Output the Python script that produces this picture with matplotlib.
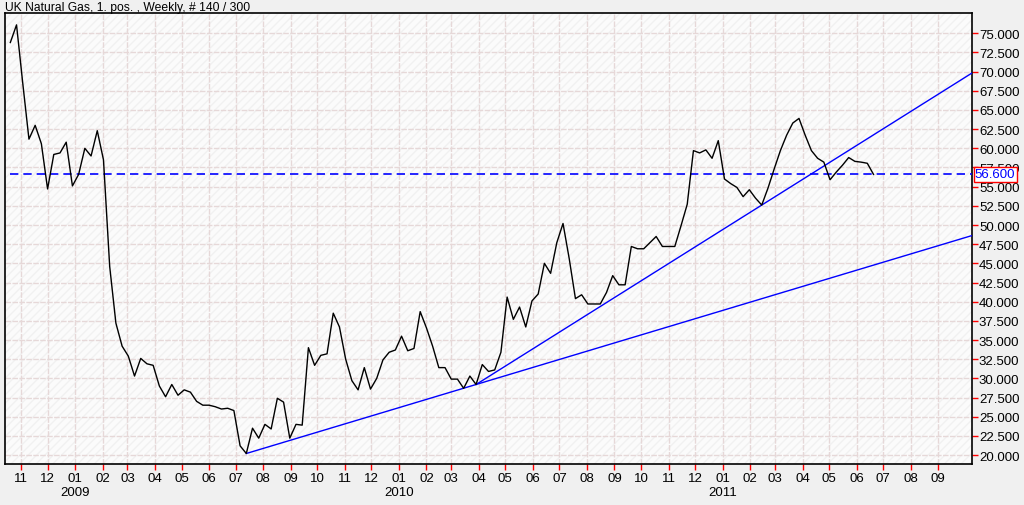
import numpy as np
import pandas as pd
import matplotlib
matplotlib.use("Agg")
import matplotlib.pyplot as plt
import matplotlib.dates as mdates
from matplotlib.patches import Rectangle
from matplotlib.ticker import FixedLocator, FuncFormatter

plt.rcParams['font.family'] = ['Liberation Sans', 'DejaVu Sans']

# weekly closes, UK Natural Gas (1. pos.)
start_date = "2008-10-20"
prices = [
    73.8, 76.1, 68.5, 61.2, 63.0, 60.6, 54.7, 59.2, 59.4, 60.8,
    55.1, 56.6, 60.0, 59.0, 62.3, 58.5, 44.6, 37.2, 34.2, 32.9,
    30.3, 32.6, 31.9, 31.7, 29.0, 27.6, 29.2, 27.8, 28.5, 28.2,
    27.0, 26.5, 26.5, 26.3, 26.0, 26.1, 25.8, 21.2, 20.2, 23.5,
    22.2, 24.0, 23.4, 27.4, 26.9, 22.2, 24.0, 23.9, 34.0, 31.7,
    33.0, 33.2, 38.5, 36.7, 32.5, 29.7, 28.5, 31.4, 28.6, 30.0,
    32.4, 33.4, 33.7, 35.5, 33.6, 33.9, 38.7, 36.6, 34.2, 31.4,
    31.4, 29.9, 29.9, 28.7, 30.3, 29.2, 31.8, 30.9, 31.1, 33.4,
    40.6, 37.7, 39.3, 36.7, 40.1, 41.0, 45.0, 43.7, 47.7, 50.2,
    45.6, 40.4, 40.9, 39.7, 39.7, 39.7, 41.2, 43.4, 42.2, 42.2,
    47.2, 46.9, 46.9, 47.7, 48.5, 47.2, 47.2, 47.2, 49.9, 52.7,
    59.7, 59.4, 59.8, 58.7, 61.0, 56.0, 55.4, 54.9, 53.7, 54.6,
    53.5, 52.6, 54.8, 57.3, 59.7, 61.7, 63.3, 63.9, 61.7, 59.7,
    58.7, 58.2, 55.9, 56.9, 57.8, 58.8, 58.3, 58.2, 58.05, 56.6,
]
# trend lines: pairs of week indices the line is drawn through
trend_anchors = [(38, 75), (75, 121)]
years = [2009, 2010, 2011]
y_ticks = np.arange(20, 75.1, 2.5)
month_ticks = pd.date_range("2008-11-01", "2011-09-01", freq="MS")
title = "UK Natural Gas, 1. pos. , Weekly, # 140 / 300"

dates = pd.date_range(start_date, periods=len(prices), freq="7D")
x = mdates.date2num(dates)
y = np.array(prices)
x_left = mdates.date2num(pd.Timestamp("2008-10-14"))
x_right = mdates.date2num(pd.Timestamp("2011-10-09"))

fig = plt.figure(figsize=(10.24, 5.06), dpi=100, facecolor="#f0f0f0")
ax = fig.add_axes([5 / 1024, 1 - 465 / 506, 967 / 1024, 451 / 506])
ax.set_facecolor("#fbfbfb")
ax.add_patch(Rectangle((0, 0), 1, 1, transform=ax.transAxes, facecolor="none",
                       edgecolor="#f1f1f1", hatch="////", lw=0, zorder=0))

ax.set_xlim(x_left, x_right)
ax.set_ylim(18.83, 77.65)

# grid
ax.xaxis.set_major_locator(FixedLocator(mdates.date2num(month_ticks)))
ax.xaxis.set_major_formatter(mdates.DateFormatter("%m"))
ax.yaxis.set_major_locator(FixedLocator(y_ticks))
ax.yaxis.set_major_formatter(FuncFormatter(lambda v, p: f"{v:.3f}"))
ax.yaxis.tick_right()
ax.grid(True, color="#e6d8d8", lw=1, ls=(0, (4, 1)), zorder=1)

ax.tick_params(axis="both", colors="red", length=4, width=1, labelsize=9.5,
               labelcolor="black", direction="out")
ax.tick_params(axis="y", pad=1)
ax.tick_params(axis="x", pad=2)
for s in ax.spines.values():
    s.set_color("black")
    s.set_linewidth(1.2)

# price line
ax.plot(x, y, color="black", lw=1, zorder=4)

# trend lines extended to the right edge
for i0, i1 in trend_anchors:
    slope = (y[i1] - y[i0]) / (x[i1] - x[i0])
    xe = np.array([x[i0], x_right])
    ax.plot(xe, y[i0] + slope * (xe - x[i0]), color="#0000ff", lw=1, zorder=3)

# last price
last = y[-1]
ax.plot([x[0], x_right], [last, last], color="#0000ff", lw=1.2,
        ls=(0, (5, 3)), zorder=3)
ax.text(1.003, last, f"{last:.3f}", transform=ax.get_yaxis_transform(),
        color="#0000ff", fontsize=9.5, va="center", ha="left", zorder=6,
        bbox=dict(boxstyle="square,pad=0.1", fc="white", ec="red", lw=1))

# year labels under January
for yr in years:
    ax.text(mdates.date2num(pd.Timestamp(f"{yr}-01-01")), -0.049, str(yr),
            transform=ax.get_xaxis_transform(), ha="center", va="top",
            fontsize=9.5)

fig.text(5 / 1024, 1 - 8 / 506, title, fontsize=8.7, ha="left", va="center")

fig.savefig("out.png", dpi=100, facecolor=fig.get_facecolor())
